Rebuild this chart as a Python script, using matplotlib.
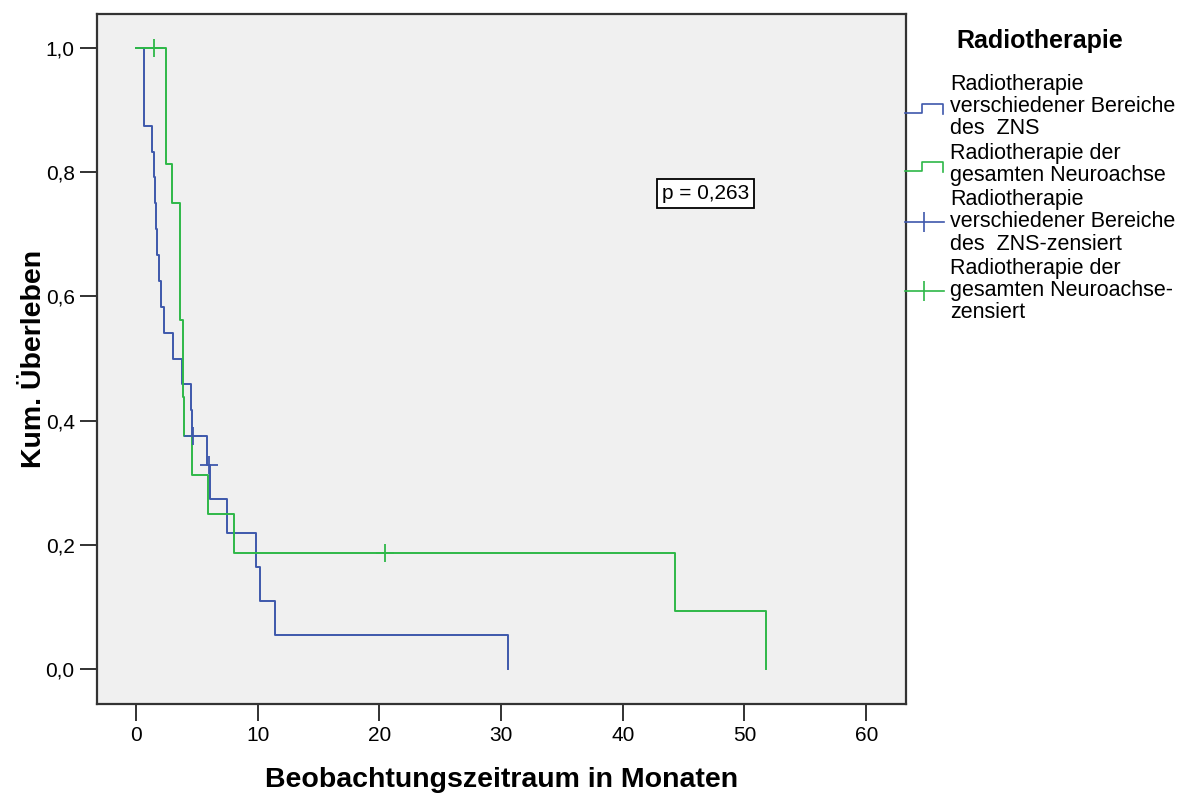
import numpy as np
import matplotlib
matplotlib.use('Agg')
from matplotlib import pyplot as plt
from matplotlib.lines import Line2D
from matplotlib.legend_handler import HandlerBase
from matplotlib.ticker import FuncFormatter

# Kaplan-Meier input: event and censoring times in months
zns_events = [0.68, 0.68, 0.68, 1.34, 1.50, 1.56, 1.62, 1.75, 1.91, 2.08, 2.30,
              3.02, 3.80, 4.49, 4.63, 5.81, 6.08, 7.45, 9.86, 10.19, 11.42, 30.57]
zns_censored = [4.70, 6.00]
neuro_events = [2.50, 2.50, 2.50, 3.00, 3.63, 3.63, 3.63, 3.85, 3.85, 3.97,
                4.60, 5.95, 8.10, 44.30, 51.75]
neuro_censored = [1.50, 20.50]

group_labels = ['Radiotherapie\nverschiedener Bereiche\ndes  ZNS',
                'Radiotherapie der\ngesamten Neuroachse']
censor_labels = ['Radiotherapie\nverschiedener Bereiche\ndes  ZNS-zensiert',
                 'Radiotherapie der\ngesamten Neuroachse-\nzensiert']
p_text = 'p = 0,263'

blue = '#3E58AC'
green = '#2EB848'

plt.rcParams['font.family'] = ['Liberation Sans', 'DejaVu Sans']


def km_curve(events, censored):
    times = sorted(set(events) | set(censored))
    at_risk = len(events) + len(censored)
    s = 1.0
    xs, ys = [0.0], [1.0]
    cx, cy = [], []
    for t in times:
        d = events.count(t)
        c = censored.count(t)
        if c:
            cx.append(t)
            cy.append(s)
        if d:
            s *= (at_risk - d) / at_risk
            xs.append(t)
            ys.append(s)
        at_risk -= d + c
    return xs, ys, cx, cy


class StepHandler(HandlerBase):
    # little step symbol like in SPSS survival legends
    def create_artists(self, legend, orig_handle, xdescent, ydescent,
                       width, height, fontsize, trans):
        lo = height * 0.1
        hi = height * 0.7
        x = [0, width * 0.45, width * 0.45, width * 0.97, width * 0.97]
        y = [lo, lo, hi, hi, lo - height * 0.05]
        ln = Line2D(x, y, color=orig_handle.get_color(), lw=1.2, transform=trans)
        return [ln]


fig = plt.figure(figsize=(11.91, 7.97), dpi=100)
ax = fig.add_axes([0.0814, 0.1167, 0.6791, 0.8657])
ax.set_facecolor('#f0f0f0')

handles = []
for ev, ce, col in [(zns_events, zns_censored, blue), (neuro_events, neuro_censored, green)]:
    xs, ys, cx, cy = km_curve(ev, ce)
    ln, = ax.step(xs, ys, where='post', color=col, lw=1.4)
    handles.append(ln)
cens_handles = []
for ev, ce, col in [(zns_events, zns_censored, blue), (neuro_events, neuro_censored, green)]:
    xs, ys, cx, cy = km_curve(ev, ce)
    ax.plot(cx, cy, '+', color=col, ms=13, mew=1.3)
    cens_handles.append(Line2D([], [], color=col, lw=1.2, marker='|', ms=14, mew=1.2))

ax.set_xlim(-3.2, 63.25)
ax.set_ylim(-0.0564, 1.0548)
ax.set_xticks(range(0, 61, 10))
ax.set_yticks(np.arange(0, 1.01, 0.2))
ax.yaxis.set_major_formatter(FuncFormatter(lambda v, p: '{0:.1f}'.format(v).replace('.', ',')))
ax.tick_params(direction='out', length=12, width=1.3, labelsize=15, color='#222222', pad=4)
for sp in ax.spines.values():
    sp.set_color('#333333')
    sp.set_linewidth(1.6)

ax.set_xlabel('Beobachtungszeitraum in Monaten', fontsize=20.5, fontweight='bold', labelpad=16)
ax.set_ylabel('Kum. Überleben', fontsize=20.5, fontweight='bold', labelpad=-1)

ax.text(46.8, 0.766, p_text, ha='center', va='center', fontsize=15,
        bbox=dict(facecolor='white', edgecolor='black', lw=1.3, boxstyle='square,pad=0.25'))

leg = ax.legend(handles + cens_handles, group_labels + censor_labels,
                handler_map={h: StepHandler() for h in handles},
                loc='upper left', bbox_to_anchor=(905 / 1191, 1 - 29 / 797),
                bbox_transform=fig.transFigure, frameon=False, fontsize=15.5,
                title='Radiotherapie', title_fontproperties={'size': 18, 'weight': 'bold'},
                handlelength=1.8, handletextpad=0.3, borderpad=0, borderaxespad=0,
                labelspacing=0.15, numpoints=1)
for t in leg.get_texts():
    t.set_linespacing(1.08)
leg._legend_box.sep = 15

fig.savefig('out.png', dpi=100)
